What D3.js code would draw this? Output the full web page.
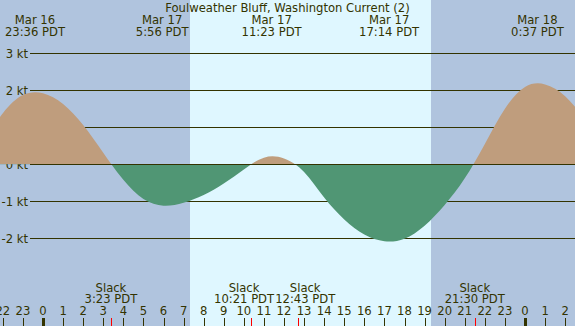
<!DOCTYPE html>
<html>
<head>
<meta charset="utf-8">
<script src="https://cdn.jsdelivr.net/npm/d3@7"></script>
<style>
  html, body { margin: 0; padding: 0; background: #b0c4de; }
  svg { display: block; font-family: "DejaVu Sans", sans-serif; }
</style>
</head>
<body>
<svg id="chart" width="575" height="326"></svg>
<script>
// hours are counted from Mar 17 00:00 PDT
var title = 'Foulweather Bluff, Washington Current (2)';

var hours = [-3, -2, -1, 0, 1, 2, 3, 4, 5, 6, 7, 8, 9, 10, 11, 12, 13, 14,
    15, 16, 17, 18, 19, 20, 21, 22, 23, 24, 25, 26, 27];
var speeds = [0.57, 1.38, 1.87, 1.92, 1.63, 1.06, 0.31, -0.42, -0.94, -1.12,
    -1.04, -0.83, -0.52, -0.14, 0.18, 0.16, -0.21, -0.90, -1.49, -1.90, -2.08,
    -2.01, -1.66, -1.10, -0.38, 0.55, 1.50, 2.09, 2.16, 1.84, 1.21];

var maxTimes = [-0.4, 5.933, 11.383, 17.233, 24.617];
var maxDates = ['Mar 16', 'Mar 17', 'Mar 17', 'Mar 17', 'Mar 18'];
var maxLabels = ['23:36 PDT', '5:56 PDT', '11:23 PDT', '17:14 PDT', '0:37 PDT'];

var slackTimes = [3.383, 10.35, 12.717, 21.5];
var slackLabels = ['3:23 PDT', '10:21 PDT', '12:43 PDT', '21:30 PDT'];

var daylight = [7.32, 19.32];   // sunrise, sunset

var levels = [-2, -1, 0, 1, 2, 3];
var tickHours = d3.range(-2, 27);

var W = 575, H = 326;
var ink = '#333300';
var fs = 11.6;

var svg = d3.select('#chart');
var x = d3.scaleLinear().domain([0, 24]).range([43, 525]);
var y = d3.scaleLinear().domain([-2, 3]).range([238.3, 53.3]);

// night / day background
svg.append('rect')
    .attr('width', W).attr('height', H)
    .attr('fill', '#b0c4de');
svg.append('rect')
    .attr('x', x(daylight[0]))
    .attr('width', x(daylight[1]) - x(daylight[0]))
    .attr('height', H)
    .attr('fill', '#dff7ff');

// depth lines
svg.selectAll('line.level')
    .data(levels)
    .enter()
    .append('line')
    .classed('level', true)
    .attr('x1', 30).attr('x2', W)
    .attr('y1', function (d) { return Math.round(y(d)) + 0.5; })
    .attr('y2', function (d) { return Math.round(y(d)) + 0.5; })
    .attr('stroke', ink);

svg.selectAll('text.level')
    .data(levels)
    .enter()
    .append('text')
    .classed('level', true)
    .attr('x', 28)
    .attr('y', function (d) { return y(d) + 4.5; })
    .attr('text-anchor', 'end')
    .attr('font-size', fs)
    .attr('fill', ink)
    .text(function (d) { return d + ' kt'; });

// current curve, split at zero
var defs = svg.append('defs');
defs.append('clipPath').attr('id', 'above')
    .append('rect').attr('width', W).attr('height', y(0));
defs.append('clipPath').attr('id', 'below')
    .append('rect').attr('y', y(0)).attr('width', W).attr('height', H);

var pts = hours.map(function (h, i) { return [h, speeds[i]]; });
var area = d3.area()
    .curve(d3.curveNatural)
    .x(function (d) { return x(d[0]); })
    .y0(y(0))
    .y1(function (d) { return y(d[1]); });

svg.append('path')
    .attr('d', area(pts))
    .attr('clip-path', 'url(#above)')
    .attr('fill', '#bf9d7d');
svg.append('path')
    .attr('d', area(pts))
    .attr('clip-path', 'url(#below)')
    .attr('fill', '#509674');

svg.append('line')
    .attr('x1', 30).attr('x2', W)
    .attr('y1', Math.round(y(0)) + 0.5)
    .attr('y2', Math.round(y(0)) + 0.5)
    .attr('stroke', ink);

// title
svg.append('text')
    .attr('x', W / 2).attr('y', 11.5)
    .attr('text-anchor', 'middle')
    .attr('font-size', fs)
    .attr('fill', ink)
    .text(title);

// max flood / ebb labels
var maxG = svg.selectAll('g.max')
    .data(maxTimes)
    .enter()
    .append('g')
    .classed('max', true)
    .attr('transform', function (d) { return 'translate(' + x(d) + ',0)'; });
maxG.append('text')
    .attr('y', 24)
    .text(function (d, i) { return maxDates[i]; });
maxG.append('text')
    .attr('y', 36)
    .text(function (d, i) { return maxLabels[i]; });
maxG.selectAll('text')
    .attr('text-anchor', 'middle')
    .attr('font-size', fs)
    .attr('fill', ink);

// slack labels, pushed apart where they collide
var slackG = svg.selectAll('g.slack')
    .data(slackTimes)
    .enter()
    .append('g')
    .classed('slack', true);
slackG.append('text')
    .attr('y', 291.5)
    .text('Slack');
var slackTime = slackG.append('text')
    .attr('y', 303)
    .text(function (d, i) { return slackLabels[i]; });
slackG.selectAll('text')
    .attr('text-anchor', 'middle')
    .attr('font-size', fs)
    .attr('fill', ink);

var cx = slackTimes.map(function (d) { return x(d); });
var widths = slackTime.nodes().map(function (n) { return n.getComputedTextLength(); });
for (var i = 1; i < cx.length; i++) {
    var need = (widths[i - 1] + widths[i]) / 2 + 1;
    var gap = cx[i] - cx[i - 1];
    if (gap < need) {
        var push = (need - gap) / 2;
        cx[i - 1] -= push;
        cx[i] += push;
    }
}
slackG.attr('transform', function (d, i) { return 'translate(' + cx[i] + ',0)'; });

// hour ticks
svg.selectAll('text.hour')
    .data(tickHours)
    .enter()
    .append('text')
    .classed('hour', true)
    .attr('x', function (d) { return x(d); })
    .attr('y', 315)
    .attr('text-anchor', 'middle')
    .attr('font-size', fs)
    .attr('fill', ink)
    .text(function (d) { return (d + 24) % 24; });

svg.selectAll('rect.hour')
    .data(tickHours)
    .enter()
    .append('rect')
    .classed('hour', true)
    .attr('x', function (d) {
        var w = d % 24 === 0 ? 3 : 1;
        return Math.round(x(d)) - (w - 1) / 2;
    })
    .attr('y', 318)
    .attr('width', function (d) { return d % 24 === 0 ? 3 : 1; })
    .attr('height', 8)
    .attr('fill', ink);

svg.selectAll('rect.slack')
    .data(slackTimes)
    .enter()
    .append('rect')
    .classed('slack', true)
    .attr('x', function (d) { return Math.round(x(d)); })
    .attr('y', 318)
    .attr('width', 1)
    .attr('height', 8)
    .attr('fill', '#ff0000');
</script>
</body>
</html>
